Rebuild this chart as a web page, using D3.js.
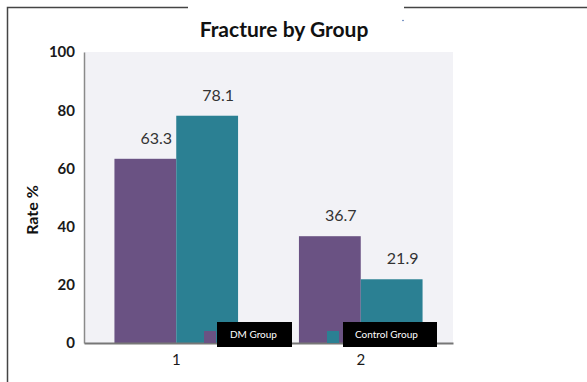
<!DOCTYPE html>
<html>
<head>
<meta charset="utf-8">
<script src="https://cdn.jsdelivr.net/npm/d3@7"></script>
<style>
  body { margin: 0; background: #fff; }
  svg { display: block; }
</style>
</head>
<body>
<div id="chart"></div>
<script>
const groups = ['1', '2']
const series = ['DM Group', 'Control Group']
const dmValues = [63.3, 36.7]
const controlValues = [78.1, 21.9]
const yTicks = [0, 20, 40, 60, 80, 100]
const colors = ['#6a5283', '#2b8093']

const width = 587
const height = 382
const plot = { left: 84, right: 453, top: 52, bottom: 343 }
const font = 'Lato, "Open Sans", sans-serif'

const svg = d3.select('#chart').append('svg')
  .attr('width', width)
  .attr('height', height)
  .style('font-family', font)

// outer frame (top edge broken behind the title)
svg.append('path')
  .attr('d', `M188,7.5 H7.5 V${height}`)
  .attr('fill', 'none').attr('stroke', '#444').attr('stroke-width', 1.5)
svg.append('path')
  .attr('d', `M404,7.5 H${width}`)
  .attr('fill', 'none').attr('stroke', '#444').attr('stroke-width', 1.5)
svg.append('circle').attr('cx', 403).attr('cy', 20.5).attr('r', 0.8).attr('fill', '#4a6fb0')

const y = d3.scaleLinear().domain([0, 100]).range([plot.bottom, plot.top])
const x0 = d3.scaleBand().domain(groups).range([plot.left, plot.right])
const groupW = x0.step() * 0.67
const x1 = d3.scaleBand().domain(series).range([0, groupW])

svg.append('rect')
  .attr('x', plot.left).attr('y', plot.top)
  .attr('width', plot.right - plot.left).attr('height', plot.bottom - plot.top)
  .attr('fill', '#f2f2f6')

const rows = groups.map((g, i) => ({ g, vals: [dmValues[i], controlValues[i]] }))

const gGroup = svg.append('g').selectAll('g')
  .data(rows)
  .enter().append('g')
  .attr('transform', d => `translate(${x0(d.g) + x0.bandwidth() / 2 - groupW / 2},0)`)

gGroup.selectAll('rect')
  .data(d => d.vals.map((v, j) => ({ s: series[j], v, j })))
  .enter().append('rect')
  .attr('x', d => x1(d.s))
  .attr('y', d => y(d.v))
  .attr('width', x1.bandwidth())
  .attr('height', d => y(0) - y(d.v))
  .attr('fill', d => colors[d.j])

// value labels sit a little right of bar centre, as in the source
gGroup.selectAll('text')
  .data(d => d.vals.map((v, j) => ({ s: series[j], v })))
  .enter().append('text')
  .attr('x', d => x1(d.s) + x1.bandwidth() / 2 + 11)
  .attr('y', d => y(d.v) - 15)
  .attr('text-anchor', 'middle')
  .attr('font-size', 16)
  .attr('fill', '#333')
  .text(d => d.v.toFixed(1))

// axes
const yAxis = svg.append('g')
  .attr('transform', `translate(${plot.left},0)`)
  .call(d3.axisLeft(y).tickValues(yTicks).tickSize(0).tickPadding(9))
yAxis.select('.domain').attr('stroke', '#8a8a8a').attr('stroke-width', 1.5)
yAxis.selectAll('text')
  .attr('font-size', 15).attr('font-weight', 'bold').attr('fill', '#1a1a1a')
  .attr('font-family', font)

const xAxis = svg.append('g')
  .attr('transform', `translate(0,${plot.bottom})`)
  .call(d3.axisBottom(x0).tickSize(0).tickPadding(11))
xAxis.select('.domain').attr('stroke', '#777').attr('stroke-width', 2)
xAxis.selectAll('text')
  .attr('font-size', 15).attr('fill', '#1a1a1a')
  .attr('font-family', font)

svg.append('text')
  .attr('x', 284).attr('y', 37)
  .attr('text-anchor', 'middle')
  .attr('font-size', 21).attr('font-weight', 'bold').attr('fill', '#111')
  .text('Fracture by Group')

svg.append('text')
  .attr('transform', 'translate(38,210) rotate(-90)')
  .attr('text-anchor', 'middle')
  .attr('font-size', 16).attr('font-weight', 'bold').attr('fill', '#111')
  .text('Rate %')

// legend (black label boxes)
const legendX = [204, 327]
const boxW = [75, 94]
const legend = svg.append('g').selectAll('g')
  .data(series)
  .enter().append('g')
  .attr('transform', (d, i) => `translate(${legendX[i]},322)`)
legend.append('rect')
  .attr('x', 0).attr('y', 9).attr('width', 12).attr('height', 12)
  .attr('fill', (d, i) => colors[i])
legend.append('rect')
  .attr('x', (d, i) => i === 0 ? 13 : 16).attr('y', 0)
  .attr('width', (d, i) => boxW[i]).attr('height', 25)
  .attr('fill', '#000')
legend.append('text')
  .attr('x', (d, i) => i === 0 ? 26 : 28).attr('y', 16)
  .attr('font-size', 10).attr('fill', '#fff')
  .text(d => d)
</script>
</body>
</html>
